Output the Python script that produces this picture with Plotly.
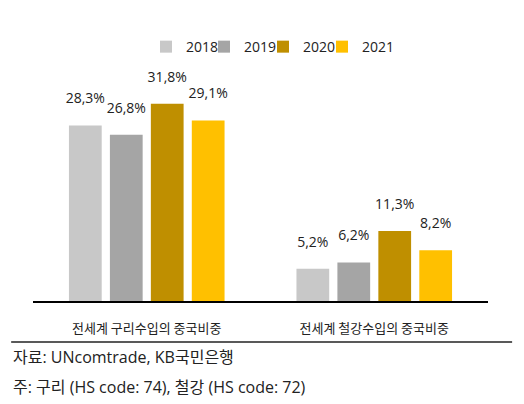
import plotly.graph_objects as go

categories = ["전세계 구리수입의 중국비중", "전세계 철강수입의 중국비중"]
years = ["2018", "2019", "2020", "2021"]
values = {
    "2018": [28.3, 5.2],
    "2019": [26.8, 6.2],
    "2020": [31.8, 11.3],
    "2021": [29.1, 8.2],
}
colors = {"2018": "#C8C8C8", "2019": "#A5A5A5", "2020": "#BF8F00", "2021": "#FFC000"}

FONT = "Open Sans, Noto Sans CJK KR"
KFONT = "Noto Sans CJK KR"
TXT = "#222222"
legend_x = [0.2483, 0.3758, 0.5055, 0.6352]
legend_ids = ["legend", "legend2", "legend3", "legend4"]

fig = go.Figure()
for i, y in enumerate(years):
    fig.add_trace(go.Bar(
        name=y, x=categories, y=values[y], legend=legend_ids[i],
        marker=dict(color=colors[y], line=dict(width=0)),
        text=[f"{v:.1f}%".replace(".", ",") + "<br><span style='font-size:5px'>&nbsp;</span>"
              for v in values[y]],
        textposition="outside", cliponaxis=False, constraintext="none",
        textfont=dict(family=FONT, size=14, color=TXT),
    ))

legend_layout = {}
for i, lid in enumerate(legend_ids):
    legend_layout[lid] = dict(orientation="h", x=legend_x[i], xanchor="left",
                              y=1.024, yanchor="middle", bgcolor="rgba(0,0,0,0)",
                              font=dict(family=FONT, size=14, color=TXT), itemwidth=30)

# the page body has an 8px margin, so the figure is 8px smaller and margins shifted
fig.update_layout(
    width=516, height=396,
    margin=dict(l=25, r=36, t=45, b=103),
    paper_bgcolor="white", plot_bgcolor="white",
    barmode="group", bargap=0.28, bargroupgap=0.2,
    font=dict(family=FONT, size=13, color=TXT),
    showlegend=True,
    xaxis=dict(showline=True, linecolor="black", linewidth=2, ticks="",
               ticklabelstandoff=14, tickfont=dict(family=KFONT, size=13, color=TXT),
               showgrid=False, zeroline=False),
    yaxis=dict(range=[0, 40], visible=False, showgrid=False, zeroline=False),
    **legend_layout,
)

fig.add_shape(type="line", xref="paper", yref="paper",
              x0=-0.048, x1=1.053, y0=-0.165, y1=-0.165,
              line=dict(color="#222222", width=1.5))
fig.add_annotation(text="자료: UNcomtrade, KB국민은행", xref="paper", yref="paper",
                   x=-0.048, y=-0.226, xanchor="left", yanchor="middle", showarrow=False,
                   font=dict(family=FONT, size=16, color=TXT))
fig.add_annotation(text="주: 구리 (HS code: 74), 철강 (HS code: 72)", xref="paper", yref="paper",
                   x=-0.048, y=-0.347, xanchor="left", yanchor="middle", showarrow=False,
                   font=dict(family=FONT, size=16, color=TXT))

fig.write_html("out.html")
